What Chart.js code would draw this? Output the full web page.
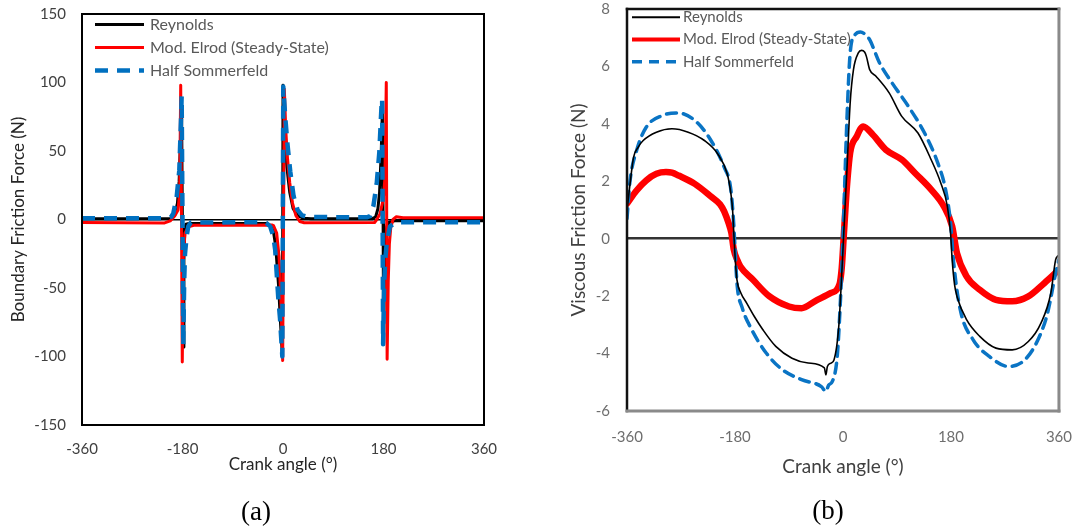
<!DOCTYPE html>
<html>
<head>
<meta charset="utf-8">
<script src="https://cdn.jsdelivr.net/npm/chart.js@4.4.0/dist/chart.umd.min.js"></script>
<style>
  body { margin: 0; background: #fff; width: 1089px; height: 527px; position: relative; overflow: hidden; }
  canvas { position: absolute; top: 0; }
  #chart-boundary { left: 0; }
  #chart-viscous { left: 540px; }
  .caption { position: absolute; font-family: "Liberation Serif", serif; font-size: 27px; color: #000; transform: translate(-50%, -50%); }
</style>
</head>
<body>
<canvas id="chart-boundary" width="540" height="527"></canvas>
<canvas id="chart-viscous" width="549" height="527"></canvas>
<div class="caption" style="left:256px; top:511px;">(a)</div>
<div class="caption" style="left:828px; top:510px;">(b)</div>
<script>
// series labels
const seriesNames = ['Reynolds', 'Mod. Elrod (Steady-State)', 'Half Sommerfeld'];
const angleTicks = [-360, -180, 0, 180, 360];

// (a) boundary friction force, N
const reyAngleA = [-360, -200, -194, -189, -186, -183, -181.8, -180.2, -179, -177.5, -176, -174, -170, -30, -22, -17, -13, -8, -4.5, -1, 0, 3, 7, 12, 18, 26, 36, 50, 160, 166, 170, 173, 176, 178, 179.3, 180.2, 181.5, 183, 186, 190, 200, 360];
const reyForceA = [0.5, 0.8, 3, 12, 28, 65, 88, 0, -93, -30, -8, -3.5, -3, -3, -4.5, -9, -20, -48, -75, -100, 98, 62, 38, 20, 8, 3, 1, 0.5, 0.5, 2, 8, 20, 50, 80, 0, -90, -40, -15, -5, -2, -1, -1];

const elrodAngleA = [-360, -212, -202, -194, -188, -185, -183.2, -181.8, -180.4, -178.5, -175.5, -169.6, -160, -20, -17, -11.3, -7.1, -3.6, -0.6, 2.4, 5, 8, 12, 17, 23, 30, 38, 164, 168, 173.7, 179.7, 182.5, 185, 186.5, 188.5, 190.5, 193, 197, 203, 215, 360];
const elrodForceA = [-2.2, -2.5, -1, 2.6, 7, 20, 98, 0, -104, -27, -10, -5.4, -4.2, -4, -4.5, -10, -27, -61, -103, 95, 65, 45, 27, 12, 3, -1.5, -2.4, -2.2, 0, 4, 15, 30, 100, -102, -45, -18, -6, 0, 2, 1.3, 1.2];

const halfAngleA = [-360, -206, -200, -196.5, -190.4, -185.7, -182.7, -181.5, -180, -178.6, -177, -175.5, -172.5, -169.6, -165, -35, -30, -23, -17.5, -14, -8.5, -5.4, -1.2, 0.5, 4, 8, 13, 19, 26, 34, 45, 150, 155.8, 161.8, 167.8, 172.5, 176.8, 177.6, 178.4, 179.3, 181, 183, 185.7, 191.6, 203.6, 360];
const halfForceA = [1, 1, 2, 4.4, 16.6, 36, 73, 90, 0, -92, -45, -25, -12, -5, -2.2, -2, -2.5, -5, -12, -22, -57, -72, -100, 97, 75, 55, 35, 17, 7, 3, 1.8, 1.6, 2.4, 9.6, 26, 49, 86, 88, 0, -91, -50, -30, -17.6, -5, -2, -2];

// (b) viscous friction force, N
const reyAngleB = [-360, -355, -349, -341, -333, -311, -285, -258, -231, -209, -193, -187, -184, -182, -179, -176.7, -170, -160.5, -148, -133.5, -112, -85, -58, -31, -28.5, -26, -20, -15, -7, -1.4, 1.3, 6.6, 12, 17.5, 25.6, 30.9, 36, 39, 44.5, 55, 77, 98, 125, 147, 163, 174, 179.3, 182, 186, 190, 206, 228, 255, 282, 309, 330, 346.5, 354.5, 358];
const reyForceB = [1.0, 1.9, 2.84, 3.2, 3.42, 3.71, 3.83, 3.71, 3.42, 2.96, 2.26, 1.6, 1.0, 0.2, -0.9, -1.43, -1.9, -2.24, -2.7, -3.17, -3.75, -4.16, -4.33, -4.5, -4.74, -4.45, -4.33, -4.22, -3.05, -0.97, 0.2, 2.4, 4.73, 5.89, 6.47, 6.56, 6.5, 6.35, 5.89, 5.66, 5.08, 4.26, 3.68, 2.75, 1.94, 1.13, 0.2, -0.73, -1.6, -2.01, -2.82, -3.4, -3.81, -3.87, -3.58, -2.94, -1.89, -0.73, -0.6];

const elrodAngleB = [-360, -344, -328, -311, -295, -285, -274, -247, -220, -205, -198, -190, -186, -182, -176, -171, -150, -123, -90, -69, -47, -20, -6, -2, 1.3, 4, 6.6, 12, 22.8, 33.7, 49.8, 71.4, 98.4, 120, 147, 168, 182, 190, 206, 228, 255, 282, 309, 336, 360];
const elrodForceB = [1.22, 1.68, 2.03, 2.26, 2.32, 2.3, 2.2, 1.91, 1.47, 1.2, 0.95, 0.5, 0.2, -0.38, -0.75, -0.97, -1.43, -2.0, -2.36, -2.42, -2.18, -1.89, -1.6, -1.0, 0.08, 1.0, 1.82, 2.99, 3.56, 3.91, 3.62, 3.1, 2.75, 2.29, 1.71, 1.13, 0.43, -0.5, -1.31, -1.78, -2.13, -2.18, -2.01, -1.54, -1.08];

const halfAngleB = [-360, -355, -344, -328, -301, -275, -247, -220, -198, -187.5, -183, -180, -176.7, -168, -155, -128, -101, -69, -36, -28.4, -24, -17.7, -9.6, -4.2, 0.2, 6.6, 12, 20, 29, 38, 44.5, 61, 82, 109, 136, 158, 171, 179.3, 184.6, 195.5, 217, 244, 276, 303, 325, 341, 354.5, 360];
const halfForceB = [0.7, 2.0, 3.07, 3.88, 4.29, 4.38, 4.12, 3.42, 2.49, 1.8, 0.8, -0.3, -1.55, -2.4, -3.05, -3.98, -4.56, -4.91, -5.15, -5.32, -5.1, -4.97, -4.1, -2.13, 0.2, 4.15, 6.47, 7.1, 7.2, 7.1, 6.93, 6.12, 5.42, 4.61, 3.68, 2.64, 1.71, 0.55, -0.85, -2.47, -3.52, -4.1, -4.45, -4.22, -3.52, -2.59, -1.2, -0.73];

function toPoints(angles, values) {
    return angles.map((a, i) => ({ x: a, y: values[i] }));
}

Chart.defaults.font.family = 'Lato, "Open Sans", sans-serif';

// frame round the plot area and the legend inside it
const panelDecor = {
    id: 'panelDecor',
    afterDatasetsDraw(chart, args, opts) {
        const ctx = chart.ctx;
        const a = chart.chartArea;
        ctx.save();
        ctx.lineCap = 'square';
        const sides = [
            [a.left, a.top, a.right, a.top, opts.topColor, opts.topWidth],
            [a.left, a.top, a.left, a.bottom, opts.topColor, opts.topWidth],
            [a.right, a.top, a.right, a.bottom, opts.bottomColor, opts.bottomWidth],
            [a.left, a.bottom, a.right, a.bottom, opts.bottomColor, opts.bottomWidth]
        ];
        sides.forEach(s => {
            ctx.beginPath();
            ctx.strokeStyle = s[4];
            ctx.lineWidth = s[5];
            ctx.moveTo(s[0], s[1]);
            ctx.lineTo(s[2], s[3]);
            ctx.stroke();
        });
        ctx.lineCap = 'butt';
        chart.data.datasets.forEach((ds, i) => {
            const y = opts.legendY + i * opts.legendStep;
            ctx.beginPath();
            ctx.strokeStyle = ds.borderColor;
            ctx.lineWidth = ds.legendWidth || ds.borderWidth;
            ctx.setLineDash(ds.borderDash || []);
            ctx.moveTo(opts.legendX, y);
            ctx.lineTo(opts.legendX + opts.legendLen, y);
            ctx.stroke();
            ctx.setLineDash([]);
            ctx.fillStyle = opts.legendColor;
            ctx.font = opts.legendFont;
            ctx.textBaseline = 'middle';
            ctx.fillText(ds.label, opts.legendX + opts.legendLen + opts.legendGap, y);
        });
        ctx.restore();
    }
};

function loadChartBoundary() {
    const ctx = document.getElementById('chart-boundary').getContext('2d');
    const myChart = new Chart(ctx, {
        type: 'line',
        data: {
            datasets: [{
                    label: seriesNames[0],
                    data: toPoints(reyAngleA, reyForceA),
                    borderColor: '#000000',
                    borderWidth: 3,
                    order: 3
                }, {
                    label: seriesNames[1],
                    data: toPoints(elrodAngleA, elrodForceA),
                    borderColor: '#ff0000',
                    borderWidth: 3,
                    order: 2
                }, {
                    label: seriesNames[2],
                    data: toPoints(halfAngleA, halfForceA),
                    borderColor: '#0070c0',
                    borderWidth: 4.5,
                    borderDash: [13, 9],
                    order: 1
                }]
        },
        options: {
            responsive: false,
            animation: false,
            elements: { point: { radius: 0 }, line: { tension: 0, borderJoinStyle: 'round' } },
            layout: { padding: { left: 0, top: 14, right: 56, bottom: 0 } },
            plugins: {
                legend: { display: false },
                tooltip: { enabled: false },
                panelDecor: {
                    topColor: '#000', topWidth: 2, bottomColor: '#000', bottomWidth: 2,
                    legendX: 95, legendY: 24.5, legendStep: 23, legendLen: 49, legendGap: 6,
                    legendFont: '16px Lato', legendColor: '#595959'
                }
            },
            scales: {
                x: {
                    type: 'linear',
                    min: -360,
                    max: 360,
                    afterBuildTicks: s => { s.ticks = angleTicks.map(v => ({ value: v })); },
                    grid: { display: false, drawTicks: false },
                    border: { display: false },
                    ticks: { padding: 15, color: '#404040', font: { size: 15 }, maxRotation: 0 },
                    title: { display: true, text: 'Crank angle (°)', color: '#262626', font: { size: 17 }, padding: { top: 0, bottom: 52 } },
                    afterFit: s => { s.height = 102; }
                },
                y: {
                    min: -150,
                    max: 150,
                    ticks: { stepSize: 50, padding: 0, color: '#404040', font: { size: 15 } },
                    grid: {
                        drawTicks: true,
                        tickLength: 16,
                        tickColor: 'rgba(0,0,0,0)',
                        color: c => c.tick && c.tick.value === 0 ? '#000' : 'rgba(0,0,0,0)',
                        lineWidth: 1.5
                    },
                    border: { display: false },
                    title: { display: true, text: 'Boundary Friction Force (N)', color: '#262626', font: { size: 17 }, padding: { top: 8, bottom: 0 } },
                    afterFit: s => { s.width = 82; }
                }
            }
        },
        plugins: [panelDecor]
    });
}

function loadChartViscous() {
    const ctx = document.getElementById('chart-viscous').getContext('2d');
    const myChart = new Chart(ctx, {
        type: 'line',
        data: {
            datasets: [{
                    label: seriesNames[0],
                    data: toPoints(reyAngleB, reyForceB),
                    borderColor: '#000000',
                    borderWidth: 1.6,
                    legendWidth: 2,
                    order: 1
                }, {
                    label: seriesNames[1],
                    data: toPoints(elrodAngleB, elrodForceB),
                    borderColor: '#ff0000',
                    borderWidth: 6.5,
                    legendWidth: 4,
                    order: 3
                }, {
                    label: seriesNames[2],
                    data: toPoints(halfAngleB, halfForceB),
                    borderColor: '#0a74c4',
                    borderWidth: 3.5,
                    borderDash: [10, 7],
                    order: 2
                }]
        },
        options: {
            responsive: false,
            animation: false,
            elements: { point: { radius: 0 }, line: { cubicInterpolationMode: 'monotone', borderJoinStyle: 'round', borderCapStyle: 'round' } },
            layout: { padding: { left: 0, top: 9, right: 17, bottom: 0 } },
            plugins: {
                legend: { display: false },
                tooltip: { enabled: false },
                panelDecor: {
                    topColor: '#111', topWidth: 2.5, bottomColor: '#8a8a8a', bottomWidth: 3,
                    legendX: 92, legendY: 17.3, legendStep: 22.2, legendLen: 48, legendGap: 3,
                    legendFont: '15px Lato', legendColor: '#595959'
                }
            },
            scales: {
                x: {
                    type: 'linear',
                    min: -360,
                    max: 360,
                    afterBuildTicks: s => { s.ticks = angleTicks.map(v => ({ value: v })); },
                    grid: { display: false, drawTicks: false },
                    border: { display: false },
                    ticks: { padding: 17, color: '#6e6e6e', font: { size: 15 }, maxRotation: 0 },
                    title: { display: true, text: 'Crank angle (°)', color: '#404040', font: { size: 19 }, padding: { top: 0, bottom: 49 } },
                    afterFit: s => { s.height = 116; }
                },
                y: {
                    min: -6,
                    max: 8,
                    ticks: { stepSize: 2, padding: 0, color: '#6e6e6e', font: { size: 15 } },
                    grid: {
                        drawTicks: true,
                        tickLength: 17,
                        tickColor: 'rgba(0,0,0,0)',
                        color: c => c.tick && c.tick.value === 0 ? '#333' : 'rgba(0,0,0,0)',
                        lineWidth: 2.5
                    },
                    border: { display: false },
                    title: { display: true, text: 'Viscous Friction Force (N)', color: '#404040', font: { size: 19 }, padding: { top: 27, bottom: 0 } },
                    afterFit: s => { s.width = 87; }
                }
            }
        },
        plugins: [panelDecor]
    });
}

loadChartBoundary();
loadChartViscous();
</script>
</body>
</html>
